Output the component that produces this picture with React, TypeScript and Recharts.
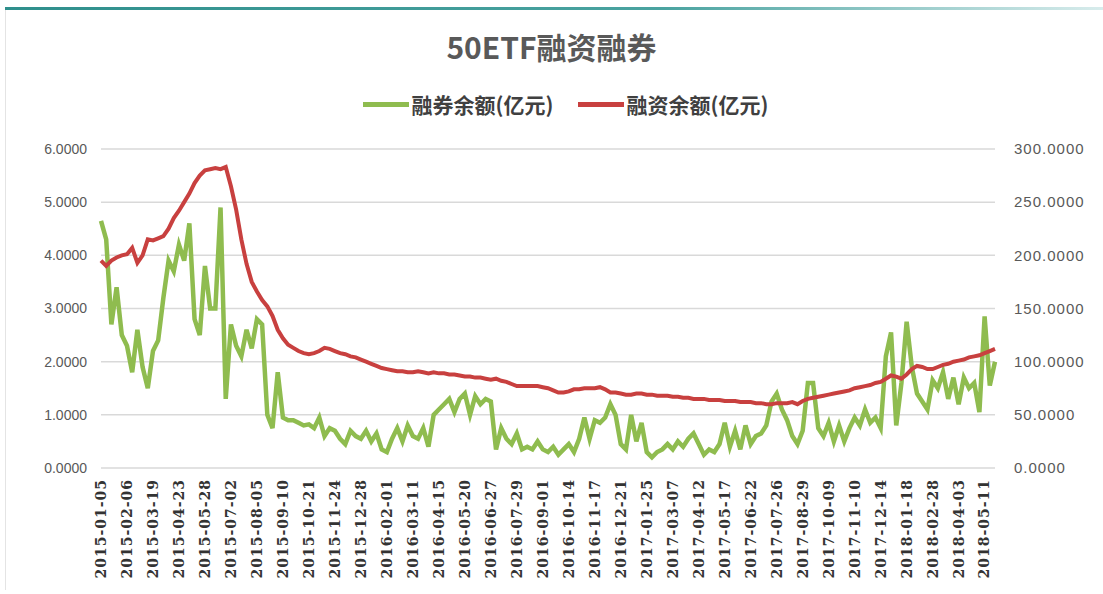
import { LineChart, Line, XAxis, YAxis, CartesianGrid, Legend } from 'recharts';

// x-axis labels, one every 5 points
const tickDates = [
  '2015-01-05', '2015-02-06', '2015-03-19', '2015-04-23', '2015-05-28', '2015-07-02', '2015-08-05',
  '2015-09-10', '2015-10-21', '2015-11-24', '2015-12-28', '2016-02-01', '2016-03-11', '2016-04-15',
  '2016-05-20', '2016-06-27', '2016-07-29', '2016-09-01', '2016-10-14', '2016-11-17', '2016-12-21',
  '2017-01-25', '2017-03-07', '2017-04-12', '2017-05-17', '2017-06-22', '2017-07-26', '2017-08-29',
  '2017-10-09', '2017-11-10', '2017-12-14', '2018-01-18', '2018-02-28', '2018-04-03', '2018-05-11',
];

// 融券余额 (亿元), left axis
const shortBal = [
  4.65, 4.3, 2.7, 3.4, 2.5, 2.3, 1.8, 2.6, 1.9, 1.5,
  2.2, 2.4, 3.2, 3.9, 3.7, 4.2, 3.9, 4.6, 2.8, 2.5,
  3.8, 3.0, 3.0, 4.9, 1.3, 2.7, 2.3, 2.1, 2.6, 2.25,
  2.8, 2.7, 1.0, 0.75, 1.8, 0.95, 0.9, 0.9, 0.85, 0.8,
  0.82, 0.75, 0.95, 0.6, 0.75, 0.7, 0.55, 0.45, 0.7, 0.6,
  0.55, 0.7, 0.5, 0.65, 0.35, 0.3, 0.55, 0.75, 0.5, 0.8,
  0.6, 0.55, 0.75, 0.4, 1.0, 1.1, 1.2, 1.3, 1.05, 1.3,
  1.4, 1.0, 1.35, 1.2, 1.3, 1.25, 0.35, 0.75, 0.55, 0.45,
  0.65, 0.35, 0.4, 0.35, 0.5, 0.35, 0.3, 0.4, 0.25, 0.35,
  0.45, 0.3, 0.55, 0.95, 0.55, 0.9, 0.85, 0.95, 1.2, 1.0,
  0.45, 0.35, 1.0, 0.5, 0.85, 0.3, 0.2, 0.3, 0.35, 0.45,
  0.35, 0.5, 0.4, 0.55, 0.65, 0.45, 0.25, 0.35, 0.3, 0.45,
  0.85, 0.4, 0.7, 0.35, 0.8, 0.45, 0.6, 0.65, 0.8, 1.25,
  1.4, 1.1, 0.9, 0.6, 0.45, 0.7, 1.6, 1.6, 0.75, 0.6,
  0.85, 0.5, 0.8, 0.5, 0.75, 0.95, 0.8, 1.1, 0.85, 0.95,
  0.75, 2.1, 2.55, 0.8, 1.6, 2.75, 1.9, 1.4, 1.25, 1.1,
  1.65, 1.5, 1.8, 1.3, 1.7, 1.2, 1.7, 1.5, 1.6, 1.05,
  2.85, 1.55, 2.0,
];

// 融资余额 (亿元), right axis
const marginBal = [
  195, 190, 195, 198, 200, 201, 207, 193, 200, 215,
  214, 216, 218, 225, 235, 242, 250, 258, 268, 275,
  280, 281, 282, 281, 283, 265, 243, 215, 192, 175,
  166, 158, 152, 143, 130, 122, 116, 113, 110, 108,
  107, 108, 110, 113, 112, 110, 108, 107, 105, 104,
  102, 100, 98, 96, 94, 93, 92, 91, 91, 90,
  90, 91, 90, 89, 90, 89, 89, 88, 88, 87,
  86, 86, 85, 85, 84, 83, 84, 82, 81, 79,
  77, 77, 77, 77, 77, 76, 75, 73, 71, 71,
  72, 74, 74, 75, 75, 75, 76, 74, 71, 71,
  70, 69, 69, 70, 70, 69, 69, 68, 68, 68,
  67, 67, 66, 66, 65, 65, 65, 64, 64, 64,
  63, 63, 63, 62, 62, 62, 61, 61, 60, 60,
  61, 61, 61, 62, 60, 63, 65, 66, 67, 68,
  69, 70, 71, 72, 73, 75, 76, 77, 78, 80,
  81, 84, 87, 86, 84, 88, 93, 96, 95, 93,
  93, 95, 97, 98, 100, 101, 102, 104, 105, 106,
  108, 110, 112,
];

const leftTicks = [0, 1, 2, 3, 4, 5, 6];
const rightTicks = [0, 50, 100, 150, 200, 250, 300];
const STEP = 5;

const GREEN = '#8fbc4f';
const RED = '#c8403f';

const rows = shortBal.map((v, i) => ({ i, short: v, margin: marginBal[i] }));

const DateTick = ({ x, y, payload }: any) => {
  const label = tickDates[Math.round(payload.value / STEP)] ?? '';
  return (
    <text
      x={x}
      y={y}
      dy="0.35em"
      transform={`rotate(-90 ${x} ${y})`}
      textAnchor="end"
      fill="#333"
      fontSize={14}
      fontWeight="bold"
      fontFamily="'DejaVu Serif', serif"
      letterSpacing={1}
    >
      {label}
    </text>
  );
};

const LegendBox = () => (
  <div
    style={{
      display: 'flex', justifyContent: 'center', gap: 24, paddingLeft: 28,
      fontFamily: "'Noto Sans CJK SC', sans-serif",
    }}
  >
    {[
      { name: '融券余额(亿元)', color: GREEN },
      { name: '融资余额(亿元)', color: RED },
    ].map((s) => (
      <div key={s.name} style={{ display: 'flex', alignItems: 'center' }}>
        <span style={{ display: 'inline-block', width: 46, height: 5, background: s.color, marginRight: 3 }} />
        <span style={{ fontSize: 21, fontWeight: 'bold', color: '#404040', lineHeight: '26px' }}>{s.name}</span>
      </div>
    ))}
  </div>
);

const App = () => {
  return (
    <div style={{ position: 'absolute', left: 0, top: 0, width: 1103, height: 594, background: '#fff' }}>
      <div
        style={{
          position: 'absolute', left: 5, top: 7, width: 1098, height: 3,
          background: 'linear-gradient(90deg, #2f8f8c 0%, #4aa3a0 60%, #d8ecec 100%)',
        }}
      />
      <div style={{ position: 'absolute', left: 5, top: 10, width: 1, height: 580, background: '#e4e4e4' }} />
      <div
        style={{
          position: 'absolute', left: 0, top: 26, width: 1103, textAlign: 'center', lineHeight: '40px',
          fontFamily: "'Noto Sans CJK SC', sans-serif", fontWeight: 'bold', fontSize: 30, color: '#595959',
        }}
      >
        50ETF融资融券
      </div>
      <LineChart width={1103} height={594} data={rows} margin={{ top: 149, right: 0, left: 0, bottom: 0 }}>
        <CartesianGrid vertical={false} stroke="#d9d9d9" strokeWidth={1.5} yAxisId="left" />
        <XAxis
          dataKey="i"
          type="number"
          domain={[0, shortBal.length - 1]}
          ticks={tickDates.map((_, k) => k * STEP)}
          tick={<DateTick />}
          tickLine={false}
          axisLine={false}
          tickSize={0}
          tickMargin={11}
          height={126}
          interval={0}
        />
        <YAxis
          yAxisId="left"
          orientation="left"
          domain={[0, 6]}
          ticks={leftTicks}
          width={101}
          tickLine={false}
          axisLine={false}
          tickSize={0}
          tickMargin={14}
          tickFormatter={(v: number) => v.toFixed(4)}
          tick={{ fill: '#595959', fontSize: 14, fontFamily: "'Liberation Sans', sans-serif" }}
        />
        <YAxis
          yAxisId="right"
          orientation="right"
          domain={[0, 300]}
          ticks={rightTicks}
          width={108}
          tickLine={false}
          axisLine={false}
          tickSize={0}
          tickMargin={19}
          tickFormatter={(v: number) => v.toFixed(4)}
          tick={{ fill: '#595959', fontSize: 15, fontFamily: "'Liberation Sans', sans-serif", letterSpacing: 1 }}
        />
        <Legend
          verticalAlign="middle"
          layout="horizontal"
          content={<LegendBox />}
          wrapperStyle={{ position: 'absolute', top: 91, left: 0, width: 1103 }}
        />
        <Line
          yAxisId="left"
          type="linear"
          dataKey="short"
          name="融券余额(亿元)"
          stroke={GREEN}
          strokeWidth={4.5}
          dot={false}
          isAnimationActive={false}
        />
        <Line
          yAxisId="right"
          type="linear"
          dataKey="margin"
          name="融资余额(亿元)"
          stroke={RED}
          strokeWidth={4}
          dot={false}
          isAnimationActive={false}
        />
      </LineChart>
    </div>
  );
};

export default App;
